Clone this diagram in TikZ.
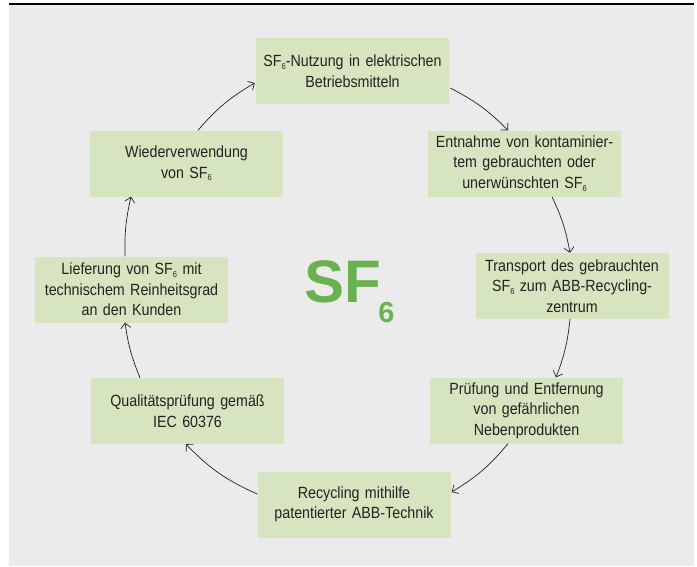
\documentclass[tikz,border=0pt]{standalone}
\usepackage{fontspec}
\setmainfont{Liberation Sans}
\newfontfamily\condfont[FakeStretch=0.88]{Liberation Sans}
\usetikzlibrary{arrows.meta}
\definecolor{panelgray}{RGB}{235,235,235}
\definecolor{boxgreen}{RGB}{214,228,191}
\definecolor{sfgreen}{RGB}{106,178,80}
\definecolor{txt}{RGB}{35,35,35}
\newcommand\subsix{\raisebox{-2.8pt}{\fontsize{8.5}{8.5}\selectfont 6}}
\tikzset{
  stepbox/.style={fill=boxgreen, minimum width=193pt, minimum height=66pt, text width=190pt, align=center, inner sep=0pt, text=txt, font=\condfont\fontsize{16.2}{20.5}\selectfont},
  flow/.style={draw=txt, line width=0.7pt, -{Straight Barb[length=5pt,width=10pt,line width=0.7pt]}}
}
\begin{document}
\begin{tikzpicture}[x=1pt,y=1pt]
\useasboundingbox (0,0) rectangle (697,-566);
\fill[white] (0,0) rectangle (697,-566);
\fill[panelgray] (9,-4.5) rectangle (694,-566);
\draw[line width=1.3pt, black] (9,-4) -- (694,-4);

\node[stepbox] (b1) at (352.5,-71) {SF\subsix-Nutzung in elektrischen\\Betriebsmitteln};
\node[stepbox] (b2) at (524.5,-163.5) {Entnahme von kontaminier-\\tem gebrauchten oder\\unerwünschten SF\subsix};
\node[stepbox] (b3) at (572,-286) {Transport des gebrauchten\\SF\subsix{} zum ABB-Recycling-\\zentrum};
\node[stepbox] (b4) at (526.5,-410.5) {Prüfung und Entfernung\\von gefährlichen\\Nebenprodukten};
\node[stepbox] (b5) at (354,-504.5) {Recycling mithilfe\\patentierter ABB-Technik};
\node[stepbox] (b6) at (187.5,-411) {Qualitätsprüfung gemäß\\IEC 60376};
\node[stepbox] (b7) at (131.5,-289.5) {Lieferung von SF\subsix{} mit\\technischem Reinheitsgrad\\an den Kunden};
\node[stepbox] (b8) at (186.5,-163.5) {Wiederverwendung\\von SF\subsix};

\node[text=sfgreen, font=\fontsize{60}{60}\selectfont\bfseries, inner sep=0pt, anchor=base west] (sf) at (304,-302) {SF};
\node[text=sfgreen, font=\fontsize{29}{29}\selectfont\bfseries, inner sep=0pt, anchor=base west] (six) at (sf.base east) [yshift=-20pt,xshift=-3pt] {6};

\draw[flow] ([xshift=1pt,yshift=-17pt]b1.east) to[bend left=9] ([xshift=-16.5pt]b2.north);
\draw[flow] ([xshift=27.5pt]b2.south) to[bend left=7.5] ([xshift=-2pt]b3.north);
\draw[flow] ([xshift=-2pt]b3.south) to[bend left=7.5] ([xshift=29.5pt]b4.north);
\draw[flow] ([xshift=-18.5pt]b4.south) to[bend left=9.5] ([xshift=1pt,yshift=12.5pt]b5.east);
\draw[flow] ([yshift=10.5pt]b5.west) to[bend left=11] ([xshift=-1.5pt]b6.south);
\draw[flow] ([xshift=-47.5pt]b6.north) to[bend left=7] ([xshift=-6.5pt]b7.south);
\draw[flow] ([xshift=-6.5pt]b7.north) to[bend left=7] ([xshift=-55.5pt]b8.south);
\draw[flow] ([xshift=11.5pt]b8.north) to[bend left=9.5] ([xshift=-1pt,yshift=-12pt]b1.west);
\end{tikzpicture}
\end{document}
